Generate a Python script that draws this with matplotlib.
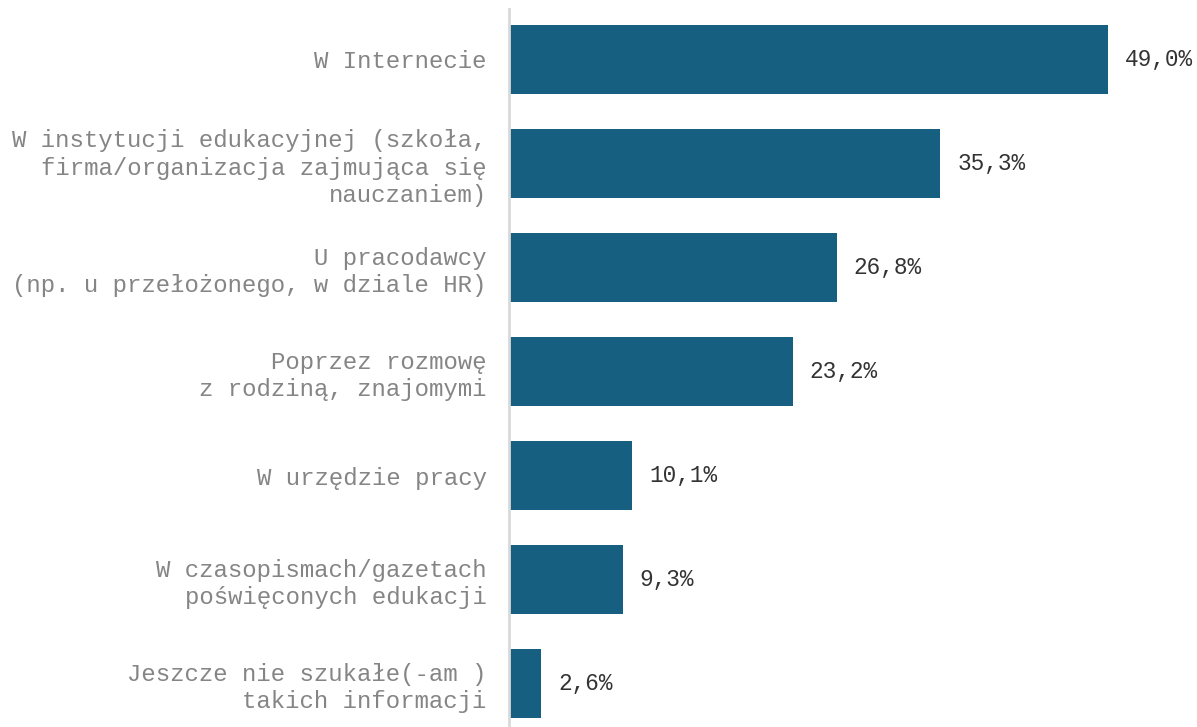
import matplotlib.pyplot as plt

labels = [
    "W Internecie",
    "W instytucji edukacyjnej (szkoła,\nfirma/organizacja zajmująca się\nnauczaniem)",
    "U pracodawcy\n(np. u przełożonego, w dziale HR)",
    "Poprzez rozmowę\nz rodziną, znajomymi",
    "W urzędzie pracy",
    "W czasopismach/gazetach\npoświęconych edukacji",
    "Jeszcze nie szukałe(-am )\ntakich informacji",
]
values = [49.0, 35.3, 26.8, 23.2, 10.1, 9.3, 2.6]
value_labels = ["49,0%", "35,3%", "26,8%", "23,2%", "10,1%", "9,3%", "2,6%"]

bar_color = "#175f80"
mono = "Liberation Mono"

fig = plt.figure(figsize=(11.97, 7.27), dpi=100)
ax = fig.add_axes([509 / 1197, 0, (1197 - 509) / 1197, 1])

pos = list(range(len(values)))
ax.barh(pos, values, height=0.665, color=bar_color)

for p, v, t in zip(pos, values, value_labels):
    ax.text(v + 1.4, p, t, va="center", ha="left", family=mono,
            fontsize=16.4, color="#333333")

ax.set_xlim(0, 56.3)
ax.set_ylim((727 - 59.5) / 104, -59.5 / 104)

ax.set_yticks(pos)
ax.set_yticklabels(labels, family=mono, fontsize=17.3, color="#858585",
                   linespacing=1.24)
ax.tick_params(axis="y", length=0, pad=16)
ax.set_xticks([])

for s in ["top", "right", "bottom"]:
    ax.spines[s].set_visible(False)
ax.spines["left"].set_color("#d9d9d9")
ax.spines["left"].set_linewidth(2)
ax.spines["left"].set_bounds(-0.49, 6.42)

fig.savefig("out.png", dpi=100)
